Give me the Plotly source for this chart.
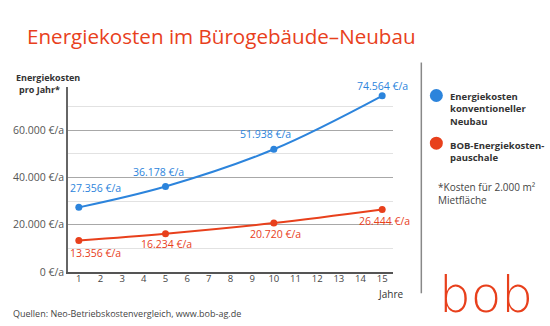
import plotly.graph_objects as go

# ---------------- data ----------------
years = [1, 5, 10, 15]
konventionell = [27356, 36178, 51938, 74564]
bob_pauschale = [13356, 16234, 20720, 26444]
x_ticks = list(range(1, 16))
y_ticks = [0, 20000, 40000, 60000]
y_tick_labels = ["0 €/a", "20.000 €/a", "40.000 €/a", "60.000 €/a"]
series_names = ["Energiekosten<br>konventioneller<br>Neubau", "BOB-Energiekosten-<br>pauschale"]

# ---------------- styles ----------------
BLUE = "#2c84dc"
RED = "#e8401c"
FONT = "Open Sans"
W, H = 550, 326
L, R, T, B = 68, 392.7, 86.5, 271.7


def px(x):
    return (x - L) / (R - L)


def py(y):
    return (B - y) / (B - T)


def fmt(v):
    return f"{v:,}".replace(",", ".") + " €/a"


fig = go.Figure()
fig.add_trace(go.Scatter(x=years, y=konventionell, mode="lines+markers",
                         line=dict(color=BLUE, width=2, shape="spline"),
                         marker=dict(color=BLUE, size=7), hoverinfo="skip"))
fig.add_trace(go.Scatter(x=years, y=bob_pauschale, mode="lines+markers",
                         line=dict(color=RED, width=2, shape="spline"),
                         marker=dict(color=RED, size=7), hoverinfo="skip"))

annotations = []
blue_off = [(17, 19), (-7, 15), (-8, 15), (0, 10)]
red_off = [(17, -13), (1, -10), (2, -11), (2, -11)]
for xv, yv, (dx, dy) in zip(years, konventionell, blue_off):
    annotations.append(dict(x=xv, y=yv, xref="x", yref="y", text=fmt(yv), showarrow=False,
                            xshift=dx, yshift=dy, font=dict(family=FONT, size=10.5, color=BLUE)))
for xv, yv, (dx, dy) in zip(years, bob_pauschale, red_off):
    annotations.append(dict(x=xv, y=yv, xref="x", yref="y", text=fmt(yv), showarrow=False,
                            xshift=dx, yshift=dy, font=dict(family=FONT, size=10.5, color=RED)))

# title
annotations.append(dict(x=px(25), y=py(35), xref="paper", yref="paper", xanchor="left", yanchor="middle",
                        text="Energiekosten im Bürogebäude–Neubau", showarrow=False,
                        font=dict(family=FONT, size=20.6, color=RED)))
# y axis title
annotations.append(dict(x=px(14), y=py(77), xref="paper", yref="paper", xanchor="left", yanchor="middle",
                        text="<b>Energiekosten</b>", showarrow=False,
                        font=dict(family=FONT, size=9, color="#333")))
annotations.append(dict(x=px(17), y=py(89), xref="paper", yref="paper", xanchor="left", yanchor="middle",
                        text="<b>pro Jahr*</b>", showarrow=False,
                        font=dict(family=FONT, size=9, color="#333")))
# x axis title
annotations.append(dict(x=px(405), y=py(294), xref="paper", yref="paper", xanchor="right", yanchor="middle",
                        text="Jahre", showarrow=False, font=dict(family=FONT, size=10, color="#333")))
# source
annotations.append(dict(x=px(11), y=py(313), xref="paper", yref="paper", xanchor="left", yanchor="middle",
                        text="Quellen: Neo-Betriebskostenvergleich, www.bob-ag.de", showarrow=False,
                        font=dict(family=FONT, size=9, color="#444")))
# legend texts
annotations.append(dict(x=px(448), y=py(94), xref="paper", yref="paper", xanchor="left", yanchor="top",
                        yshift=6, text="<b>" + series_names[0] + "</b>", showarrow=False, align="left",
                        font=dict(family=FONT, size=9.5, color="#333")))
annotations.append(dict(x=px(448), y=py(143), xref="paper", yref="paper", xanchor="left", yanchor="top",
                        yshift=6, text="<b>" + series_names[1] + "</b>", showarrow=False, align="left",
                        font=dict(family=FONT, size=9.5, color="#333")))
annotations.append(dict(x=px(436), y=py(184), xref="paper", yref="paper", xanchor="left", yanchor="top",
                        yshift=6, text="*Kosten für 2.000 m²<br>Mietfläche", showarrow=False, align="left",
                        font=dict(family=FONT, size=10, color="#444")))
# logo
annotations.append(dict(x=px(486), y=py(295), xref="paper", yref="paper", xanchor="center", yanchor="middle",
                        text="bob", showarrow=False, font=dict(family="DejaVu Sans", size=50, color=RED, weight=300)))

shapes = []
for cy, col in [(95, BLUE), (142.7, RED)]:
    r = 6.5
    shapes.append(dict(type="circle", xref="paper", yref="paper", x0=px(436 - r), x1=px(436 + r),
                       y0=py(cy + r), y1=py(cy - r), fillcolor=col, line=dict(width=0)))
shapes.append(dict(type="line", xref="paper", yref="paper", x0=px(421), x1=px(421), y0=py(62), y1=py(293),
                   line=dict(color="#888", width=1.5)))

fig.update_layout(
    width=W, height=H, margin=dict(l=L, r=W - R, t=T, b=H - B),
    paper_bgcolor="white", plot_bgcolor="white", showlegend=False,
    annotations=annotations, shapes=shapes,
    xaxis=dict(range=[0.5, 15.5], tickvals=x_ticks, showgrid=False, zeroline=False,
               showline=True, linecolor="#555", linewidth=1.5, ticks="", ticklabelstandoff=-3,
               tickfont=dict(family=FONT, size=9.5, color="#444")),
    yaxis=dict(range=[0, 78300], tickvals=y_ticks, ticktext=y_tick_labels, showgrid=True,
               gridcolor="#a8a8a8", gridwidth=1, zeroline=False, showline=True, linecolor="#666",
               linewidth=1.5, ticks="", tickfont=dict(family=FONT, size=10.5, color="#555"),
               minor=dict(dtick=10000, tick0=0, showgrid=True, gridcolor="#e2e2e2", gridwidth=1)),
)

fig.write_html("out.html")
